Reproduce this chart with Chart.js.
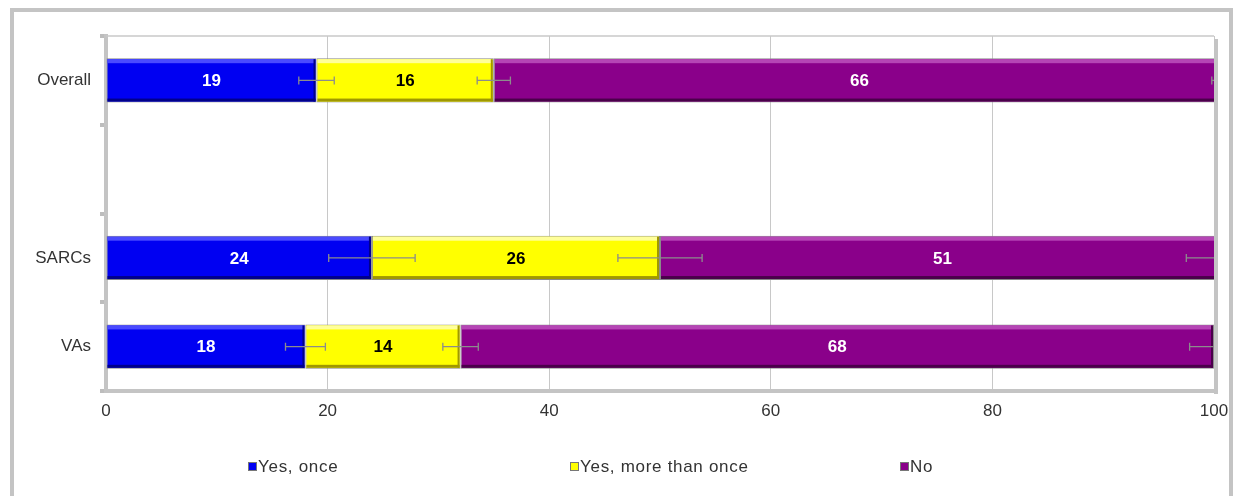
<!DOCTYPE html>
<html>
<head>
<meta charset="utf-8">
<script src="https://cdn.jsdelivr.net/npm/chart.js@4/dist/chart.umd.min.js"></script>
<style>
  body { margin: 0; background: #fff; font-family: "Liberation Sans", Arial, sans-serif; }
  #wrap { position: relative; width: 1241px; height: 496px; overflow: hidden; }
  #frame { position: absolute; left: 10px; top: 8px; width: 1223px; height: 520px; border: 4px solid #c4c4c4; box-sizing: border-box; }
  canvas { position: absolute; left: 0; top: 0; }
  .leg { position: absolute; top: 457px; font-size: 17px; color: #333; white-space: nowrap; line-height: 20px; letter-spacing: 0.7px; }
  .leg i { display: inline-block; width: 9px; height: 9px; margin-right: 1px; vertical-align: 1px; border: 1px solid #777; box-sizing: border-box; }
</style>
</head>
<body>
<div id="wrap">
  <div id="frame"></div>
  <canvas id="chart" width="1241" height="496"></canvas>
  <div id="legend"></div>
</div>
<script>
const categories = ['Overall', '', 'SARCs', 'VAs'];
const seriesNames = ['Yes, once', 'Yes, more than once', 'No'];
const yesOnce = [19, null, 24, 18];
const yesMore = [16, null, 26, 14];
const no = [66, null, 51, 68];
// half-width of the error whiskers
const errOnce = [1.6, null, 3.9, 1.8];
const errMore = [1.5, null, 3.8, 1.6];
const errNo = [1.2, null, 3.5, 2.2];
const xTicks = [0, 20, 40, 60, 80, 100];

const fills = ['#0000f2', '#ffff00', '#8a008a'];
const lights = ['#4a4aff', '#ffff9a', '#b545b5'];
const darks = ['#00008a', '#a09800', '#4a004a'];
const labelColors = ['#fff', '#000', '#fff'];
const errors = [errOnce, errMore, errNo];

const legendX = [248, 570, 900];
const legendBox = document.getElementById('legend');
seriesNames.forEach((name, i) => {
  const d = document.createElement('div');
  d.className = 'leg';
  d.style.left = legendX[i] + 'px';
  d.innerHTML = '<i style="background:' + fills[i] + '"></i>' + name;
  legendBox.appendChild(d);
});

const barExtras = {
  id: 'barExtras',
  afterDatasetsDraw(chart) {
    const ctx = chart.ctx;
    const area = chart.chartArea;
    const xs = chart.scales.x;
    ctx.save();
    ctx.beginPath();
    ctx.rect(area.left, area.top - 2, area.right - area.left, area.bottom - area.top + 4);
    ctx.clip();
    // bevel highlight / shadow
    chart.data.datasets.forEach((ds, i) => {
      chart.getDatasetMeta(i).data.forEach((el, j) => {
        if (ds.data[j] == null) return;
        const l = Math.min(el.x, el.base), r = Math.max(el.x, el.base);
        const top = el.y - el.height / 2, h = el.height;
        ctx.fillStyle = lights[i];
        ctx.fillRect(l + 1, top + 1, r - l - 2, 4);
        ctx.fillStyle = darks[i];
        ctx.fillRect(l + 1, top + h - 4, r - l - 2, 3);
        ctx.fillRect(r - 3, top + 1, 2, h - 2);
      });
    });
    // error bars
    ctx.strokeStyle = '#8c8c8c';
    ctx.lineWidth = 1.3;
    chart.data.datasets.forEach((ds, i) => {
      chart.getDatasetMeta(i).data.forEach((el, j) => {
        const e = errors[i][j];
        if (ds.data[j] == null || e == null) return;
        let cum = 0;
        for (let k = 0; k <= i; k++) cum += chart.data.datasets[k].data[j];
        const x1 = xs.getPixelForValue(cum - e), x2 = xs.getPixelForValue(cum + e);
        const y = el.y;
        ctx.beginPath();
        ctx.moveTo(x1, y); ctx.lineTo(x2, y);
        ctx.moveTo(x1, y - 4); ctx.lineTo(x1, y + 4);
        ctx.moveTo(x2, y - 4); ctx.lineTo(x2, y + 4);
        ctx.stroke();
      });
    });
    // value labels
    ctx.font = 'bold 17px "Liberation Sans", Arial, sans-serif';
    ctx.textAlign = 'center';
    ctx.textBaseline = 'middle';
    chart.data.datasets.forEach((ds, i) => {
      chart.getDatasetMeta(i).data.forEach((el, j) => {
        if (ds.data[j] == null) return;
        ctx.fillStyle = labelColors[i];
        ctx.fillText(String(ds.data[j]), (el.x + el.base) / 2, el.y + 1);
      });
    });
    ctx.restore();
    // plot outline with the right shadow
    ctx.save();
    ctx.strokeStyle = '#c8c8c8';
    ctx.lineWidth = 1.5;
    ctx.beginPath();
    ctx.moveTo(area.left, area.top);
    ctx.lineTo(area.right, area.top);
    ctx.stroke();
    ctx.fillStyle = '#c4c4c4';
    ctx.fillRect(area.right, area.top + 3, 4, area.bottom - area.top);
    ctx.restore();
  }
};

new Chart(document.getElementById('chart'), {
  type: 'bar',
  data: {
    labels: categories,
    datasets: seriesNames.map((name, i) => ({
      label: name,
      data: [yesOnce, yesMore, no][i],
      backgroundColor: fills[i],
      borderColor: '#8a8a8a',
      borderWidth: 1,
      borderSkipped: false,
      barPercentage: 0.5,
      categoryPercentage: 1
    }))
  },
  options: {
    indexAxis: 'y',
    responsive: false,
    animation: false,
    layout: { padding: { left: 0, top: 36, right: 27, bottom: 75 } },
    plugins: { legend: { display: false }, tooltip: { enabled: false } },
    scales: {
      x: {
        stacked: true,
        min: 0,
        max: 100,
        afterBuildTicks: s => { s.ticks = xTicks.map(v => ({ value: v })); },
        afterFit: s => { s.height = 30; },
        grid: { color: '#c8c8c8', lineWidth: 1, drawTicks: false },
        border: { color: '#c4c4c4', width: 4 },
        ticks: { color: '#333', padding: 10, font: { family: '"Liberation Sans", Arial', size: 17 } }
      },
      y: {
        stacked: true,
        afterFit: s => { s.width = 106; },
        grid: { drawOnChartArea: false, drawTicks: true, tickLength: 6, color: '#bdbdbd', lineWidth: 4 },
        border: { color: '#c4c4c4', width: 4 },
        ticks: { color: '#333', padding: 9, font: { family: '"Liberation Sans", Arial', size: 17 } }
      }
    }
  },
  plugins: [barExtras]
});
</script>
</body>
</html>
